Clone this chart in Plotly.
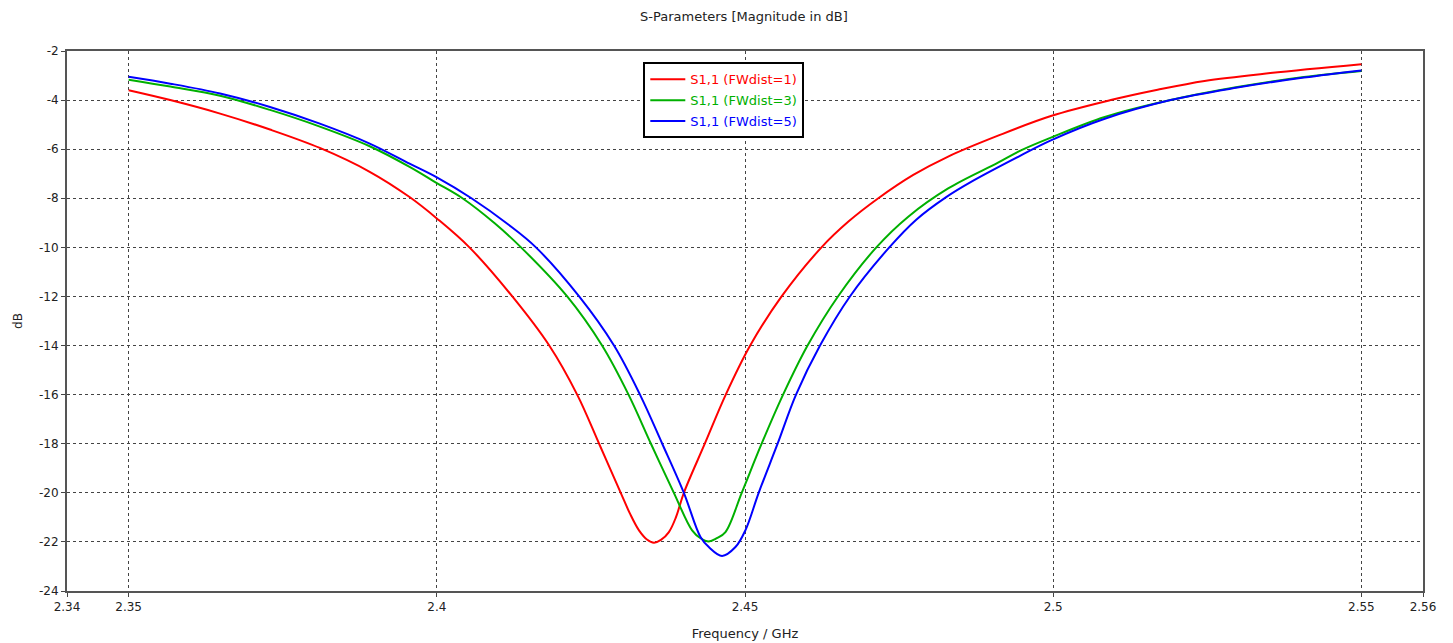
import plotly.graph_objects as go

# ---- data ----
freq_fw1 = [2.35, 2.35675, 2.36484, 2.37293, 2.38102, 2.38911, 2.39558, 2.40, 2.40529, 2.41225,
            2.41824, 2.42277, 2.42633, 2.42984, 2.43134, 2.43280, 2.43409, 2.43523, 2.43636,
            2.43765, 2.43879, 2.44008, 2.44348, 2.44688, 2.45084, 2.45594, 2.46241, 2.46678,
            2.47163, 2.47730, 2.48296, 2.49105, 2.49963, 2.50934, 2.51694, 2.52455, 2.53523, 2.55]
db_fw1 = [-3.6, -4.0, -4.55, -5.2, -5.95, -6.92, -7.95, -8.82, -10.0, -12.0,
          -14.0, -16.0, -18.0, -20.0, -20.85, -21.53, -21.9, -22.03, -21.92,
          -21.6, -21.0, -20.0, -18.0, -16.0, -14.0, -12.0, -10.0, -8.95,
          -8.0, -7.05, -6.3, -5.45, -4.65, -4.0, -3.58, -3.22, -2.9, -2.54]

freq_fw3 = [2.35, 2.35675, 2.36484, 2.37293, 2.38102, 2.38911, 2.39558, 2.40, 2.40416, 2.40934,
            2.41366, 2.42115, 2.42681, 2.43110, 2.43474, 2.43846, 2.44142, 2.44278, 2.44413,
            2.44542, 2.44683, 2.44947, 2.45270, 2.45618, 2.46015, 2.46508, 2.47131, 2.47649,
            2.48296, 2.49105, 2.49477, 2.49963, 2.50837, 2.51905, 2.52989, 2.54068, 2.55]
db_fw3 = [-3.17, -3.45, -3.82, -4.4, -5.08, -5.88, -6.72, -7.38, -8.0, -9.01,
          -10.0, -12.0, -14.0, -16.0, -18.0, -20.0, -21.53, -21.85, -21.98,
          -21.85, -21.6, -20.0, -18.0, -16.0, -14.0, -12.0, -10.0, -8.75,
          -7.6, -6.55, -6.05, -5.53, -4.69, -4.0, -3.47, -3.06, -2.81]

freq_fw5 = [2.35, 2.35675, 2.36484, 2.37293, 2.38102, 2.38911, 2.39558, 2.40, 2.40562, 2.41160,
            2.41608, 2.42309, 2.42875, 2.43296, 2.43657, 2.44008, 2.44278, 2.44413, 2.44628,
            2.44845, 2.45006, 2.45222, 2.45529, 2.45828, 2.46217, 2.46702, 2.47341, 2.47778,
            2.48264, 2.48668, 2.49477, 2.49963, 2.50837, 2.51905, 2.52989, 2.54068, 2.55]
db_fw5 = [-3.05, -3.33, -3.73, -4.28, -4.96, -5.77, -6.59, -7.15, -8.0, -9.07,
          -10.0, -12.0, -14.0, -16.0, -18.0, -20.0, -21.8, -22.21, -22.57,
          -22.21, -21.53, -20.0, -18.0, -16.0, -14.0, -12.0, -10.0, -8.87,
          -7.95, -7.33, -6.25, -5.64, -4.76, -4.0, -3.49, -3.08, -2.79]

series_names = ["S1,1 (FWdist=1)", "S1,1 (FWdist=3)", "S1,1 (FWdist=5)"]
series_colors = ["#ff0000", "#00b000", "#0000ff"]

x_tickvals = [2.34, 2.35, 2.40, 2.45, 2.50, 2.55, 2.56]
x_ticktext = ["2.34", "2.35", "2.4", "2.45", "2.5", "2.55", "2.56"]
y_tickvals = [-2, -4, -6, -8, -10, -12, -14, -16, -18, -20, -22, -24]
y_ticktext = ["-2", "-4", "-6", "-8", "-10", "-12", "-14", "-16", "-18", "-20", "-22", "-24"]

FONT = "DejaVu Sans"
TXT = "#222222"

fig = go.Figure()
for i, (xs, ys, name, col) in enumerate(zip([freq_fw1, freq_fw3, freq_fw5],
                                            [db_fw1, db_fw3, db_fw5],
                                            series_names, series_colors)):
    fig.add_trace(go.Scatter(
        x=xs, y=ys, mode="lines",
        line=dict(color=col, width=2, shape="spline", smoothing=1.0),
        name=f'<span style="color:{col}">{name}</span>',
        legendgroup=f"g{i}",
    ))

axis_common = dict(
    showline=True, mirror=True, linecolor="#555555", linewidth=2,
    showgrid=True, gridcolor="#444444", gridwidth=1, griddash="3px,3px",
    ticks="outside", ticklen=4, tickcolor="#444444",
    tickfont=dict(family=FONT, size=12, color=TXT),
    zeroline=False, automargin=False,
)

# the page body adds an 8 px offset, so the figure is sized to fit the window
fig.update_layout(
    width=1445, height=635,
    paper_bgcolor="white", plot_bgcolor="white",
    margin=dict(l=59, r=30, t=43, b=52),
    title=dict(text="S-Parameters [Magnitude in dB]", x=0.5093, xanchor="center",
               y=0.986, yanchor="middle",
               font=dict(family=FONT, size=13, color=TXT)),
    xaxis=dict(range=[2.34, 2.56], tickvals=x_tickvals, ticktext=x_ticktext,
               title=dict(text="Frequency / GHz", standoff=15,
                          font=dict(family=FONT, size=13, color=TXT)),
               **axis_common),
    yaxis=dict(range=[-24, -2], tickvals=y_tickvals, ticktext=y_ticktext,
               title=dict(text="dB", standoff=14,
                          font=dict(family=FONT, size=12, color=TXT)),
               **axis_common),
    showlegend=True,
    legend=dict(x=0.425, y=0.979, xanchor="left", yanchor="top",
                bgcolor="white", bordercolor="black", borderwidth=2,
                font=dict(family=FONT, size=13), traceorder="grouped",
                tracegroupgap=1, itemwidth=35),
)

fig.write_html("out.html")
